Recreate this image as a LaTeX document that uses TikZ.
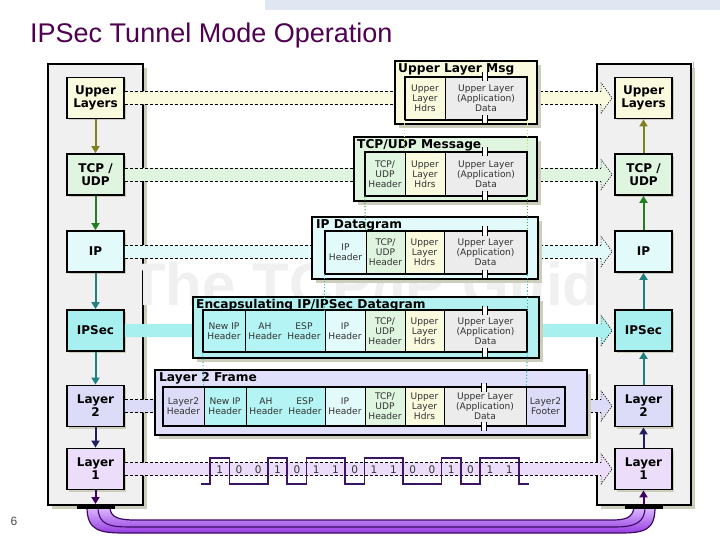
\documentclass[tikz,border=0pt]{standalone}
\usepackage{fontspec}
\setmainfont{Liberation Sans}
\newfontfamily\dejavu{DejaVu Sans}
\usetikzlibrary{calc,arrows.meta,shadows}
\definecolor{titlec}{RGB}{80,0,80}
\definecolor{panelc}{RGB}{240,240,240}
\definecolor{shadowc}{RGB}{205,205,188}
\definecolor{upc}{RGB}{250,250,222}
\definecolor{tcpc}{RGB}{224,245,224}
\definecolor{ipc}{RGB}{226,250,250}
\definecolor{ipsecc}{RGB}{168,240,240}
\definecolor{ltwoc}{RGB}{220,220,248}
\definecolor{lonec}{RGB}{236,222,250}
\definecolor{datac}{RGB}{236,236,236}
\definecolor{newipc}{RGB}{180,244,244}
\definecolor{encapc}{RGB}{180,240,240}
\definecolor{lframec}{RGB}{224,224,250}
\definecolor{textc}{RGB}{50,50,50}
\definecolor{olivec}{RGB}{128,128,32}
\definecolor{greenc}{RGB}{32,128,32}
\definecolor{tealc}{RGB}{32,128,128}
\definecolor{navyc}{RGB}{32,32,96}
\definecolor{purpc}{RGB}{64,0,96}
\definecolor{wavec}{RGB}{60,20,100}
\definecolor{cabletop}{RGB}{222,190,255}
\definecolor{cablebot}{RGB}{150,60,225}
\definecolor{cableline}{RGB}{60,10,100}
\definecolor{yellowdot}{RGB}{215,215,90}
\definecolor{greendot}{RGB}{60,170,60}
\definecolor{cyandot}{RGB}{60,190,190}
\definecolor{decoc}{RGB}{224,231,242}
\newcommand\boxfont{\dejavu\fontsize{12}{13}\selectfont\bfseries}
\newcommand\cellfont{\dejavu\fontsize{9.1}{10}\selectfont}
\newcommand\ftfont{\dejavu\fontsize{12.2}{12}\selectfont\bfseries}
\newcommand\cellnode[7]{%
  \node[cell, fill=#6, minimum width={#3-#2}, minimum height={#5-#4}] (#1) at ({(#2+#3)/2},{(#4+#5)/2}) {#7};}
\newcommand\frameouter[5]{%
  \fill[shadowc] ({#1+4},{#2+4}) rectangle ({#3+4},{#4+4});
  \filldraw[fill=#5, draw=black, line width=1.6] (#1,#2) rectangle (#3,#4);}
\newcommand\brk[2]{%
  \fill[white] ({#1-2},{#2-3.5}) rectangle ({#1+2},{#2+3.5});
  \draw[line width=1.3] ({#1-2.3},{#2-4.5}) -- ({#1-2.3},{#2+4.5}) ({#1+2.3},{#2-4.5}) -- ({#1+2.3},{#2+4.5});}
\newcommand\bandarrow[4]{%
  \fill[#3] ($(#1.east)+(0,-6.5)$) -- ($(#2.west)+(-13,-6.5)$) -- ($(#2.west)+(-13,-15)$) -- ($(#2.west)+(-2,0)$) -- ($(#2.west)+(-13,15)$) -- ($(#2.west)+(-13,6.5)$) -- ($(#1.east)+(0,6.5)$) -- cycle;
  \draw[#4] ($(#1.east)+(0,-6.5)$) -- ($(#2.west)+(-13,-6.5)$) ($(#1.east)+(0,6.5)$) -- ($(#2.west)+(-13,6.5)$);
  \draw[headdot] ($(#2.west)+(-13,-6.5)$) -- ($(#2.west)+(-13,-15)$) -- ($(#2.west)+(-2,0)$) -- ($(#2.west)+(-13,15)$) -- ($(#2.west)+(-13,6.5)$);}
\begin{document}
\begin{tikzpicture}[x=1pt,y=-1pt,
  layerbox/.style={draw=black, line width=1.8, minimum width=57, minimum height=41, inner sep=0, align=center, font=\boxfont,
    drop shadow={shadow xshift=2pt,shadow yshift=-2pt,fill=shadowc,opacity=1}},
  cell/.style={draw=black, line width=0.6, inner sep=0, align=center, font=\cellfont, text=textc},
  celltext/.style={inner sep=0, align=center, font=\cellfont, text=textc},
  ftitle/.style={font=\ftfont, anchor=base west, inner sep=0},
  stackarr/.style={line width=2, -{Triangle[length=7pt,width=8pt]}},
  bandedge/.style={dash pattern=on 3pt off 2pt, line width=0.7},
  headdot/.style={dash pattern=on 1pt off 1.5pt, line width=0.7},
  vdot/.style={line width=1.1, dash pattern=on 1.2pt off 2pt},
  digit/.style={font=\dejavu\fontsize{10.5}{10}\selectfont, text=textc, inner sep=0}]
\useasboundingbox (0,0) rectangle (720,540);
\fill[white] (0,0) rectangle (720,540);
% slide decorations
\fill[decoc] (265,0) rectangle (720,10);
\draw[decoc!80!black, line width=1] (693,62) -- (693,190);
% title and page number
\node[anchor=base west, font=\fontsize{27}{27}\selectfont, text=titlec, inner sep=0] (title) at (30,43) {IPSec Tunnel Mode Operation};
\node[font=\fontsize{12}{12}\selectfont, text=black!70, inner sep=0] (pg) at (14,521) {6};
% panels
\fill[shadowc] (52,68) rectangle (147,509);
\filldraw[fill=panelc, draw=black, line width=1.5] (48,64) rectangle (143,505);
\fill[shadowc] (601,68) rectangle (695,509);
\filldraw[fill=panelc, draw=black, line width=1.5] (597,64) rectangle (691,505);
% watermark
\node[anchor=base, font=\fontsize{60}{60}\selectfont\bfseries, text=black!6, inner sep=0] (wm) at (381,305) {The TCP/IP Guide};
% layer boxes
\node[layerbox, fill=upc] (lu) at (95.5,98) {Upper\\Layers};
\node[layerbox, fill=tcpc] (lt) at (95.5,174.5) {TCP /\\UDP};
\node[layerbox, fill=ipc] (li) at (95.5,251.5) {IP};
\node[layerbox, fill=ipsecc] (ls) at (95.5,330.5) {IPSec};
\node[layerbox, fill=ltwoc] (l2) at (95.5,406) {Layer\\2};
\node[layerbox, fill=lonec] (l1) at (95.5,469) {Layer\\1};
\node[layerbox, fill=upc] (ru) at (643.5,98) {Upper\\Layers};
\node[layerbox, fill=tcpc] (rt) at (643.5,174.5) {TCP /\\UDP};
\node[layerbox, fill=ipc] (ri) at (643.5,251.5) {IP};
\node[layerbox, fill=ipsecc] (rs) at (643.5,330.5) {IPSec};
\node[layerbox, fill=ltwoc] (r2) at (643.5,406) {Layer\\2};
\node[layerbox, fill=lonec] (r1) at (643.5,469) {Layer\\1};
\coordinate (lbot) at (95.5,504);
\coordinate (rbot) at (643.5,504);
% stack arrows
\draw[stackarr, olivec] (lu.south) -- (lt.north);
\draw[stackarr, greenc] (lt.south) -- (li.north);
\draw[stackarr, tealc] (li.south) -- (ls.north);
\draw[stackarr, tealc] (ls.south) -- (l2.north);
\draw[stackarr, navyc] (l2.south) -- (l1.north);
\draw[stackarr, purpc] (l1.south) -- (lbot);
\draw[stackarr, olivec] (rt.north) -- (ru.south);
\draw[stackarr, greenc] (ri.north) -- (rt.south);
\draw[stackarr, tealc] (rs.north) -- (ri.south);
\draw[stackarr, tealc] (r2.north) -- (rs.south);
\draw[stackarr, navyc] (r1.north) -- (r2.south);
\draw[stackarr, purpc] (rbot) -- (r1.south);
% bands
\bandarrow{lu}{ru}{upc}{bandedge}
\bandarrow{lt}{rt}{tcpc}{bandedge}
\bandarrow{li}{ri}{ipc}{bandedge}
\bandarrow{ls}{rs}{ipsecc}{draw=none}
\bandarrow{l2}{r2}{ltwoc}{bandedge}
\bandarrow{l1}{r1}{lonec}{bandedge}
% Frame 1: Upper Layer Msg
\frameouter{395}{61}{537}{124}{upc}
\node[ftitle] (f1t) at (398,73) {Upper Layer Msg};
\cellnode{uh}{405}{445}{77}{120}{upc}{Upper\\Layer\\Hdrs}
\cellnode{ud}{445}{527}{77}{120}{datac}{Upper Layer\\(Application)\\Data}
\draw[line width=1.6] (405,77) rectangle (527,120);
\brk{485}{77}\brk{485}{120}
% Frame 2: TCP/UDP Message
\frameouter{354}{137}{537}{201}{tcpc}
\node[ftitle] (f2t) at (357,148.5) {TCP/UDP Message};
\cellnode{th}{365}{405}{152}{196}{tcpc}{TCP/\\UDP\\Header}
\cellnode{tuh}{405}{445}{152}{196}{upc}{Upper\\Layer\\Hdrs}
\cellnode{td}{445}{527}{152}{196}{datac}{Upper Layer\\(Application)\\Data}
\draw[line width=1.6] (365,152) rectangle (527,196);
\brk{485}{152}\brk{485}{196}
% Frame 3: IP Datagram
\frameouter{312}{217}{538}{279}{ipc}
\node[ftitle] (f3t) at (316,228.5) {IP Datagram};
\cellnode{ih}{325}{366}{231}{274}{ipc}{IP\\Header}
\cellnode{ith}{366}{405}{231}{274}{tcpc}{TCP/\\UDP\\Header}
\cellnode{iuh}{405}{444}{231}{274}{upc}{Upper\\Layer\\Hdrs}
\cellnode{id}{444}{527}{231}{274}{datac}{Upper Layer\\(Application)\\Data}
\draw[line width=1.6] (325,231) rectangle (527,274);
\brk{485}{231}\brk{485}{274}
% Frame 4: Encapsulating IP/IPSec Datagram
\frameouter{193}{297}{539}{358}{encapc}
\node[ftitle] (f4t) at (196,308) {Encapsulating IP/IPSec Datagram};
\cellnode{enew}{203}{245}{310}{352}{newipc}{New IP\\Header}
\cellnode{eah}{245}{325}{310}{352}{newipc}{}
\node[celltext] (eaht) at (265,331) {AH\\Header};
\node[celltext] (eesp) at (304,331) {ESP\\Header};
\cellnode{eih}{325}{365}{310}{352}{ipc}{IP\\Header}
\cellnode{eth}{365}{405}{310}{352}{tcpc}{TCP/\\UDP\\Header}
\cellnode{euh}{405}{444}{310}{352}{upc}{Upper\\Layer\\Hdrs}
\cellnode{ed}{444}{527}{310}{352}{datac}{Upper Layer\\(Application)\\Data}
\draw[line width=1.6] (203,310) rectangle (527,352);
\brk{485}{310}\brk{485}{352}
% Frame 5: Layer 2 Frame
\frameouter{155}{370}{587}{435}{lframec}
\node[ftitle] (f5t) at (159,381.5) {Layer 2 Frame};
\cellnode{lh}{163}{204}{387}{426}{ltwoc}{Layer2\\Header}
\cellnode{lnew}{204}{246}{387}{426}{newipc}{New IP\\Header}
\cellnode{lah}{246}{325}{387}{426}{newipc}{}
\node[celltext] (laht) at (266,406.5) {AH\\Header};
\node[celltext] (lesp) at (305,406.5) {ESP\\Header};
\cellnode{lih}{325}{365}{387}{426}{ipc}{IP\\Header}
\cellnode{lth}{365}{405}{387}{426}{tcpc}{TCP/\\UDP\\Header}
\cellnode{luh}{405}{444}{387}{426}{upc}{Upper\\Layer\\Hdrs}
\cellnode{ld}{444}{526}{387}{426}{datac}{Upper Layer\\(Application)\\Data}
\cellnode{lf}{526}{565}{387}{426}{ltwoc}{Layer2\\Footer}
\draw[line width=1.6] (163,387) rectangle (565,426);
\brk{484}{387}\brk{484}{426}
% dotted links between frames
\draw[vdot, yellowdot] (uh.south west) -- (tuh.north west);
\draw[vdot, yellowdot] (ud.south east) -- (td.north east);
\draw[vdot, greendot] (th.south west) -- (ith.north west);
\draw[vdot, greendot] (td.south east) -- (id.north east);
\draw[vdot, cyandot] (ih.south west) -- (eih.north west);
\draw[vdot, cyandot] (id.south east) -- (ed.north east);
\draw[vdot, cyandot] (enew.south west) -- (lnew.north west);
\draw[vdot, cyandot] (ed.south east) -- (ld.north east);
% bit waveform
\draw[wavec, line width=1.5] (201,484) -- (210,484) -- (210,458) -- (229.3,458) -- (229.3,484) -- (267.9,484) -- (267.9,458) -- (287.2,458) -- (287.2,484) -- (306.5,484) -- (306.5,458) -- (345.1,458) -- (345.1,484) -- (364.4,484) -- (364.4,458) -- (403,458) -- (403,484) -- (441.6,484) -- (441.6,458) -- (460.9,458) -- (460.9,484) -- (480.2,484) -- (480.2,458) -- (518.8,458) -- (518.8,484) -- (529,484);
\foreach \b [count=\i from 0] in {1,0,0,1,0,1,1,0,1,1,0,0,1,0,1,1}
  \node[digit] (d\i) at ({219.65+19.3*\i},470) {\b};
% cable
\shade[top color=cabletop, bottom color=cablebot] (87,507) .. controls (87,531) and (100,533) .. (125,533) -- (620,533) .. controls (645,533) and (655,530) .. (655,507) -- (634,507) .. controls (633,518) and (625,520) .. (612,520) -- (135,520) .. controls (120,520) and (110,518) .. (110,507) -- cycle;
\draw[cableline, line width=1.2] (87,507) .. controls (87,531) and (100,533) .. (125,533) -- (620,533) .. controls (645,533) and (655,530) .. (655,507);
\draw[cableline, line width=1.2] (110,507) .. controls (110,518) and (120,520) .. (135,520) -- (612,520) .. controls (625,520) and (633,518) .. (634,507);
\draw[cableline, line width=1.1] (98,507) .. controls (98,525) and (110,527) .. (130,527) -- (615,527) .. controls (636,527) and (645,522) .. (645,507);
\fill[black] (77,504.5) rectangle (115,508.5);
\fill[black] (625,504.5) rectangle (663,508.5);
\end{tikzpicture}
\end{document}
